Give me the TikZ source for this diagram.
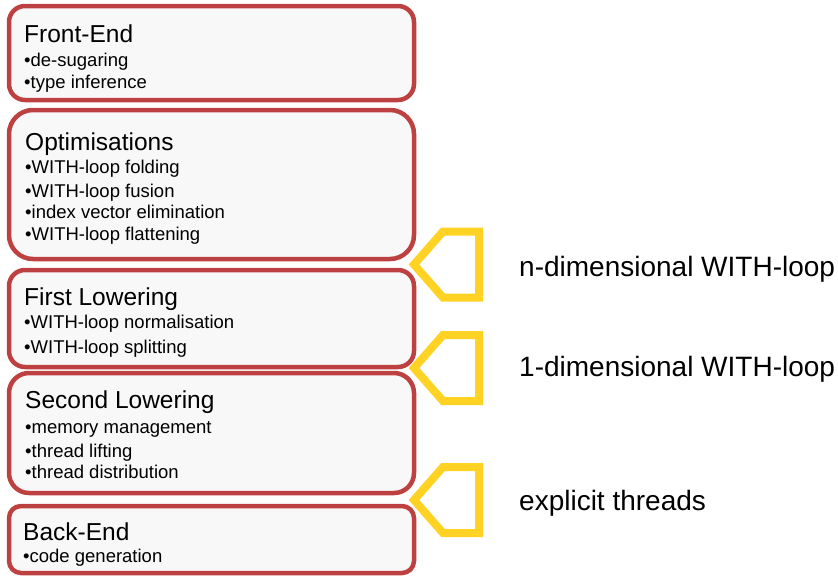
\documentclass[tikz,border=0pt]{standalone}
\usepackage{fontspec}
\setmainfont{Liberation Sans}
\definecolor{boxred}{RGB}{190,65,65}
\definecolor{boxfill}{RGB}{248,248,248}
\definecolor{arrowyellow}{RGB}{255,210,35}
\begin{document}
\begin{tikzpicture}[x=1pt,y=-1pt,
 stagebox/.style={draw=boxred, fill=boxfill, line width=4.5pt, inner sep=0pt, outer sep=0pt, anchor=north west, minimum width=405pt},
 ttl/.style={anchor=base west, inner sep=0pt, font=\fontsize{24.5}{28}\selectfont},
 itm/.style={anchor=base west, inner sep=0pt, font=\fontsize{18.5}{22}\selectfont},
 lbl/.style={anchor=base west, inner sep=0pt, font=\fontsize{28}{32}\selectfont},
 chevron/.style={draw=arrowyellow, line width=8pt, miter limit=10}]
\useasboundingbox (0,0) rectangle (838,576);

% stage boxes
\node[stagebox, rounded corners=16pt, minimum height=94pt] (fe) at (9,6) {};
\node[stagebox, rounded corners=24pt, minimum height=149pt] (opt) at (9,110) {};
\node[stagebox, rounded corners=16pt, minimum height=97pt] (fl) at (9,270) {};
\node[stagebox, rounded corners=20pt, minimum height=120pt] (sl) at (9,373) {};
\node[stagebox, rounded corners=12pt, minimum height=67pt] (be) at (9,506) {};

% texts
\node[ttl] (fet) at (24,42) {Front-End};
\node[itm] (fe1) at (24,66) {•de-sugaring};
\node[itm] (fe2) at (24,88) {•type inference};

\node[ttl] (optt) at (25,150) {Optimisations};
\node[itm] (opt1) at (25,173) {•WITH-loop folding};
\node[itm] (opt2) at (25,197) {•WITH-loop fusion};
\node[itm] (opt3) at (25,218) {•index vector elimination};
\node[itm] (opt4) at (25,240) {•WITH-loop flattening};

\node[ttl] (flt) at (24,305) {First Lowering};
\node[itm] (fl1) at (24,328) {•WITH-loop normalisation};
\node[itm] (fl2) at (24,353) {•WITH-loop splitting};

\node[ttl] (slt) at (25,408) {Second Lowering};
\node[itm] (sl1) at (25,433) {•memory management};
\node[itm] (sl2) at (25,457) {•thread lifting};
\node[itm] (sl3) at (25,478) {•thread distribution};

\node[ttl] (bet) at (23,540) {Back-End};
\node[itm] (be1) at (23,562) {•code generation};

% chevrons
\draw[chevron] (414,264.5) -- (443,231.5) -- (479,231.5) -- (479,297.5) -- (443,297.5) -- cycle;
\draw[chevron] (414,368) -- (443,335) -- (479,335) -- (479,401) -- (443,401) -- cycle;
\draw[chevron] (414,500) -- (443,467) -- (479,467) -- (479,533) -- (443,533) -- cycle;

% labels
\node[lbl] (l1) at (519,276) {n-dimensional WITH-loop};
\node[lbl] (l2) at (519,376) {1-dimensional WITH-loop};
\node[lbl] (l3) at (519,510) {explicit threads};
\end{tikzpicture}
\end{document}
